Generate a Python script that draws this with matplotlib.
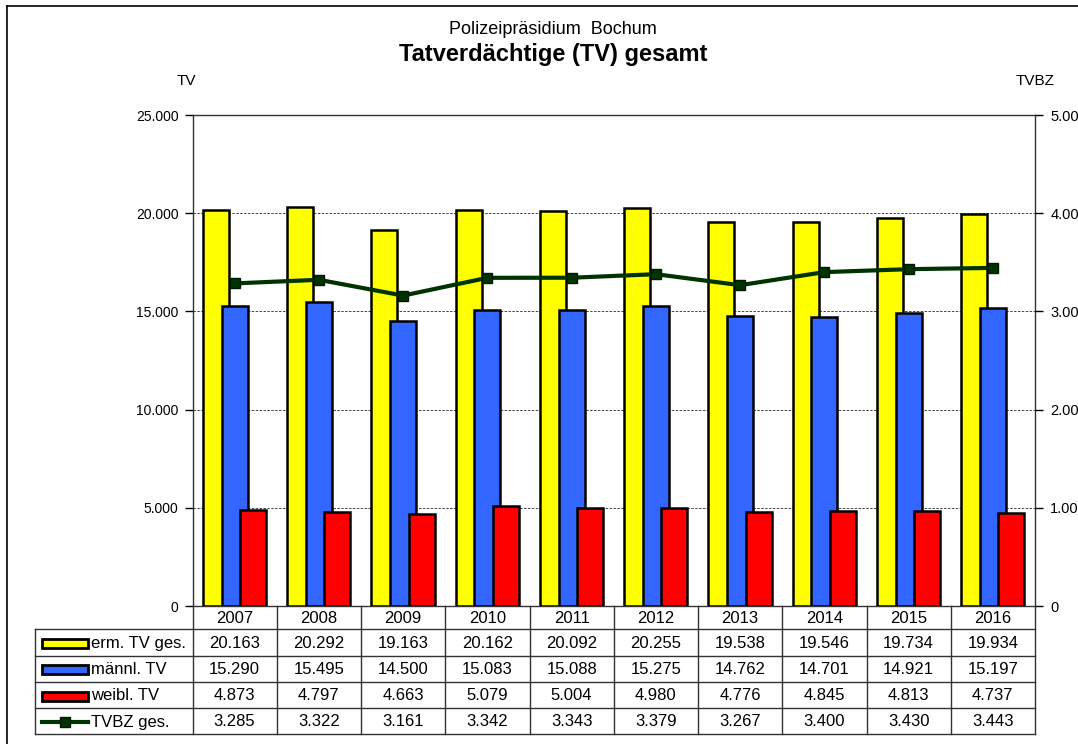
import matplotlib
matplotlib.use("Agg")
import matplotlib.pyplot as plt
from matplotlib.lines import Line2D
from matplotlib.patches import Rectangle
from matplotlib.ticker import FuncFormatter

plt.rcParams['font.family'] = ['Liberation Sans', 'DejaVu Sans']

# Daten
jahre = ['2007', '2008', '2009', '2010', '2011', '2012', '2013', '2014', '2015', '2016']
tv_gesamt = [20163, 20292, 19163, 20162, 20092, 20255, 19538, 19546, 19734, 19934]
tv_maennl = [15290, 15495, 14500, 15083, 15088, 15275, 14762, 14701, 14921, 15197]
tv_weibl = [4873, 4797, 4663, 5079, 5004, 4980, 4776, 4845, 4813, 4737]
tvbz = [3285, 3322, 3161, 3342, 3343, 3379, 3267, 3400, 3430, 3443]

serien = ['erm. TV ges.', 'männl. TV', 'weibl. TV', 'TVBZ ges.']
farben = ['#FFFF00', '#3366FF', '#FF0000']
gruen = '#003300'

W, H = 1078, 744


def de(v, pos=None):
    return f"{v:,.0f}".replace(",", ".")


def fx(px):
    return px / W


def fy(py):
    return 1 - py / H


fig = plt.figure(figsize=(W / 100, H / 100), dpi=100)

# Hauptdiagramm
ax_l, ax_r, ax_t, ax_b = 192.5, 1035, 115, 606
ax = fig.add_axes([fx(ax_l), fy(ax_b), fx(ax_r - ax_l), (ax_b - ax_t) / H])
x = list(range(len(jahre)))
breite = 0.31
offs = [-0.223, 0.0, 0.22]
for werte, farbe, off in zip([tv_gesamt, tv_maennl, tv_weibl], farben, offs):
    ax.bar([i + off for i in x], werte, width=breite, color=farbe,
           edgecolor='black', linewidth=1.8, zorder=3)

ax.set_xlim(-0.5, len(jahre) - 0.5)
ax.set_ylim(0, 25000)
ax.set_yticks([0, 5000, 10000, 15000, 20000, 25000])
ax.yaxis.set_major_formatter(FuncFormatter(de))
ax.set_xticks([])
ax.grid(axis='y', linestyle=(0, (2.5, 1.5)), color='#444444', linewidth=0.7, zorder=0)
ax.tick_params(axis='y', direction='out', length=6, width=1, labelsize=10, pad=4)
for s in ax.spines.values():
    s.set_linewidth(1.0)
    s.set_color('#333333')

ax2 = ax.twinx()
ax2.plot(x, tvbz, color=gruen, linewidth=3, marker='s', markersize=7.5,
         markerfacecolor=gruen, markeredgecolor='#001a00', zorder=5)
ax2.set_ylim(0, 5000)
ax2.set_yticks([0, 1000, 2000, 3000, 4000, 5000])
ax2.yaxis.set_major_formatter(FuncFormatter(de))
ax2.tick_params(axis='y', direction='out', length=6, width=1, labelsize=10.5, pad=5)
for s in ax2.spines.values():
    s.set_visible(False)

# Titel
fig.text(fx(553), fy(30), 'Polizeipräsidium  Bochum', ha='center', va='center', fontsize=13)
fig.text(fx(553), fy(54), 'Tatverdächtige (TV) gesamt', ha='center', va='center',
         fontsize=17, fontweight='bold')
fig.text(fx(186), fy(81), 'TV', ha='center', va='center', fontsize=11)
fig.text(fx(1035), fy(81), 'TVBZ', ha='center', va='center', fontsize=11)

# Datentabelle
tb_b = 734
tax = fig.add_axes([fx(ax_l), fy(tb_b), fx(ax_r - ax_l), (tb_b - ax_b) / H], sharex=ax)
tax.set_ylim(tb_b, ax_b)
tax.axis('off')
zeilen = [606, 629, 655.5, 682, 708, tb_b]
kat_px = (ax_r - ax_l) / len(jahre)


def px2x(px):
    return -0.5 + (px - ax_l) / kat_px


x_links = px2x(35)
lw = 1.0
lc = '#333333'
for i in range(len(jahre) + 1):
    tax.plot([i - 0.5, i - 0.5], [zeilen[0], zeilen[-1]], color=lc, lw=lw, clip_on=False)
for y in zeilen[1:]:
    tax.plot([x_links, len(jahre) - 0.5], [y, y], color=lc, lw=lw, clip_on=False)
tax.plot([x_links, x_links], [zeilen[1], zeilen[-1]], color=lc, lw=lw, clip_on=False)

fs = 12
for i, j in enumerate(jahre):
    tax.text(i, (zeilen[0] + zeilen[1]) / 2 + 1, j, ha='center', va='center', fontsize=fs)

tabelle = [tv_gesamt, tv_maennl, tv_weibl, tvbz]
for r, werte in enumerate(tabelle):
    ym = (zeilen[r + 1] + zeilen[r + 2]) / 2 + 1
    for i, v in enumerate(werte):
        tax.text(i, ym, de(v), ha='center', va='center', fontsize=fs)
    # Legendensymbol
    k0, k1 = px2x(42), px2x(88)
    if r < 3:
        tax.add_patch(Rectangle((k0, ym - 4.5), k1 - k0, 9, facecolor=farben[r],
                                edgecolor='black', linewidth=2, clip_on=False))
    else:
        tax.plot([k0, k1], [ym, ym], color=gruen, lw=3, clip_on=False)
        tax.plot([(k0 + k1) / 2], [ym], marker='s', markersize=7.5, color=gruen,
                 markeredgecolor='#001a00', clip_on=False)
    tax.text(px2x(91), ym, serien[r], ha='left', va='center', fontsize=fs)

# Rahmen
fig.add_artist(Line2D([fx(7), fx(7)], [fy(6), 0], color='black', lw=1.2))
fig.add_artist(Line2D([fx(7), 1], [fy(6), fy(6)], color='black', lw=1.2))

fig.savefig('out.png', dpi=100)
